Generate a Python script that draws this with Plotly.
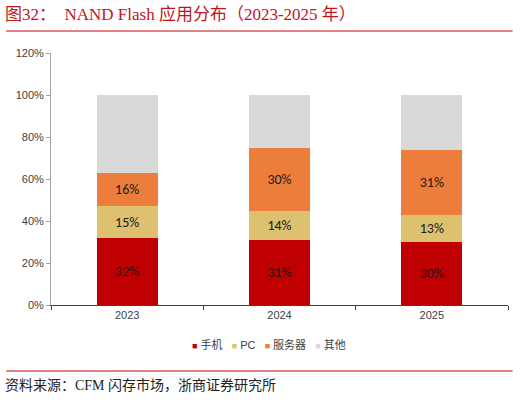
import plotly.graph_objects as go

years = ["2023", "2024", "2025"]
phone = [0.32, 0.31, 0.30]
pc = [0.15, 0.14, 0.13]
server = [0.16, 0.30, 0.31]
other = [0.37, 0.25, 0.26]

series = [
    ("手机", phone, "#C00000", True),
    ("PC", pc, "#DDC170", True),
    ("服务器", server, "#ED7D3B", True),
    ("其他", other, "#D9D9D9", False),
]

fig = go.Figure()
for name, vals, color, show_label in series:
    fig.add_trace(go.Bar(
        x=years, y=vals, name=name,
        marker=dict(color=color, line=dict(width=0)),
        text=[f"{v:.0%}" for v in vals] if show_label else None,
        textposition="inside", insidetextanchor="middle",
        constraintext="none",
        textfont=dict(family="Carlito, Lato, sans-serif", size=14, color="#1a1a1a"),
        showlegend=False,
    ))

# legend drawn as one line of text with coloured squares
legend_text = "&nbsp;&nbsp;&nbsp;".join(
    f"<span style='color:{c};font-size:9px'>■</span>&nbsp;{n}" for n, _, c, _ in series
)

h = 402 - 53 - 97
fig.update_layout(
    width=520, height=402,
    barmode="stack", bargap=0.6,
    plot_bgcolor="white", paper_bgcolor="white",
    margin=dict(l=51, r=12, t=53, b=97),
    font=dict(family="Liberation Sans, Noto Sans CJK SC, sans-serif", size=11, color="#404040"),
    xaxis=dict(
        type="category", tickson="boundaries",
        showline=True, linecolor="#404040", linewidth=1,
        ticks="outside", ticklen=4, tickcolor="#404040",
        tickfont=dict(size=11, color="#404040"),
        showgrid=False,
    ),
    yaxis=dict(
        range=[0, 1.2], dtick=0.2, tickformat=".0%",
        showline=True, linecolor="#A6A6A6", linewidth=1,
        ticks="outside", ticklen=4, tickcolor="#A6A6A6",
        showgrid=False, zeroline=False,
        tickfont=dict(size=11, color="#404040"),
    ),
    annotations=[
        dict(text="图32：  NAND Flash 应用分布（2023-2025 年）",
             xref="paper", yref="paper", x=-0.105, y=1.0, yanchor="bottom",
             xanchor="left", yshift=27, showarrow=False,
             font=dict(family="Liberation Serif, Noto Sans CJK SC, serif", size=17, color="#C0141C")),
        dict(text=legend_text,
             xref="paper", yref="paper", x=0.476, y=0, yanchor="middle",
             xanchor="center", yshift=-39, showarrow=False,
             font=dict(size=11, color="#404040")),
        dict(text="资料来源：CFM 闪存市场，浙商证券研究所",
             xref="paper", yref="paper", x=-0.105, y=0, yanchor="middle",
             xanchor="left", yshift=-80, showarrow=False,
             font=dict(family="Liberation Serif, Noto Sans CJK SC, serif", size=14, color="#222222")),
    ],
    shapes=[
        dict(type="line", xref="paper", yref="paper", x0=-0.098, x1=1.01,
             y0=1 + 22 / h, y1=1 + 22 / h, line=dict(color="#D9575E", width=1.5)),
        dict(type="line", xref="paper", yref="paper", x0=-0.098, x1=1.01,
             y0=-66 / h, y1=-66 / h, line=dict(color="#D9575E", width=1.5)),
    ],
)

fig.write_html("out.html", config={"displayModeBar": False},
               post_script="document.body.style.margin='0';")
